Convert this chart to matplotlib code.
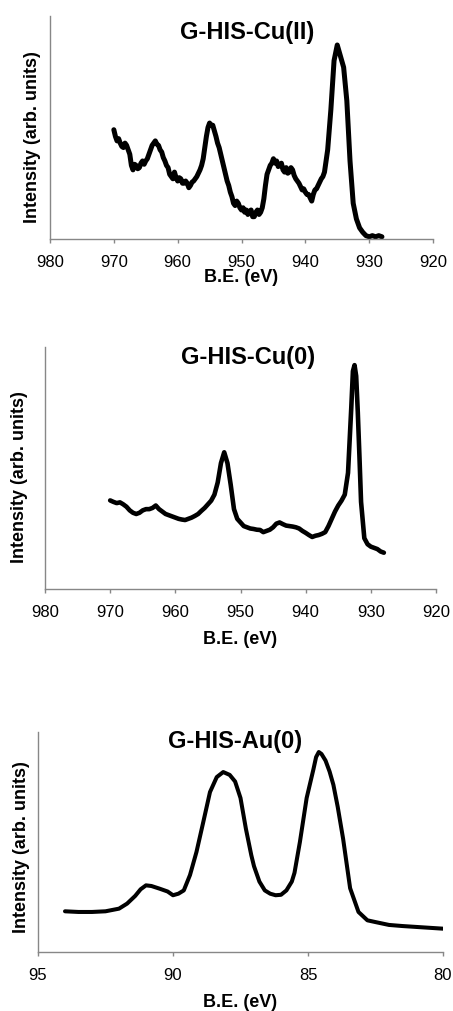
import matplotlib
matplotlib.use("Agg")
import matplotlib.pyplot as plt

plt.rcParams['font.family'] = ['Liberation Sans', 'DejaVu Sans']

# Cu 2p spectrum, G-HIS-Cu(II)
cu2_be = [970, 969.75, 969.5, 969.25, 969, 968.75, 968.5, 968.25, 968, 967.75, 967.5, 967.25,
          967, 966.75, 966.5, 966.25, 966, 965.75, 965.5, 965.25, 965, 964.75, 964.5, 964.25,
          964, 963.75, 963.5, 963.25, 963, 962.75, 962.5, 962.25, 962, 961.75, 961.5, 961.25,
          961, 960.75, 960.5, 960.25, 960, 959.75, 959.5, 959.25, 959, 958.75, 958.5, 958.25,
          958, 957.75, 957.5, 957.25, 957, 956.75, 956.5, 956.25, 956, 955.75, 955.5, 955.25,
          955, 954.75, 954.5, 954.25, 954, 953.75, 953.5, 953.25, 953, 952.75, 952.5, 952.25,
          952, 951.75, 951.5, 951.25, 951, 950.75, 950.5, 950.25, 950, 949.75, 949.5, 949.25,
          949, 948.75, 948.5, 948.25, 948, 947.75, 947.5, 947.25, 947, 946.75, 946.5, 946.25,
          946, 945.75, 945.5, 945.25, 945, 944.75, 944.5, 944.25, 944, 943.75, 943.5, 943.25,
          943, 942.75, 942.5, 942.25, 942, 941.75, 941.5, 941.25, 941, 940.75, 940.5, 940.25,
          940, 939.75, 939.5, 939.25, 939, 938.75, 938.5, 938.25, 938, 937.75, 937.5, 937.25,
          937, 936.5, 936, 935.5, 935, 934.5, 934, 933.5, 933, 932.5, 932, 931.5,
          931, 930.5, 930, 929.5, 929, 928.5, 928]
cu2_int = [49, 46, 44, 45, 43, 41.5, 41, 43, 42, 40, 38, 33,
           31, 33.5, 33, 31.5, 32, 34, 35, 33.5, 35, 36, 38, 40,
           42, 43, 44, 42.5, 42, 40, 39, 36.5, 35, 33, 32, 29,
           28, 27, 30, 27.5, 26, 27.5, 27, 25, 25, 26, 25, 23,
           24, 25.5, 26, 27, 28, 29.5, 31, 33, 36, 41, 46, 50,
           52, 51, 51, 48.5, 46, 43, 41, 38, 35, 32, 29, 26,
           24, 21, 19, 16, 15, 17, 16, 14, 13, 14, 12, 13,
           11, 12.5, 13, 10, 10, 12, 13, 11, 12, 14, 18, 24,
           29, 31, 33, 34, 36, 34, 35, 32.5, 33, 34, 31, 30,
           32, 29.5, 30, 32, 31, 28.5, 27, 26, 25, 23.5, 22, 22.5,
           21, 20, 20, 18.5, 17, 20, 22, 22.5, 24, 25.5, 27, 28,
           30, 40, 58, 80, 87, 82, 77, 62, 35, 16, 9, 5,
           3, 1.5, 1, 1.5, 1, 1.5, 1]

# Cu 2p spectrum, G-HIS-Cu(0)
cu0_be = [970, 969.5, 969, 968.5, 968, 967.5, 967, 966.5, 966, 965.5, 965, 964.5,
          964, 963.5, 963, 962.5, 962, 961.5, 961, 960.5, 960, 959.5, 959, 958.5,
          958, 957.5, 957, 956.5, 956, 955.5, 955, 954.5, 954, 953.5, 953, 952.5,
          952, 951.5, 951, 950.5, 950, 949.5, 949, 948.5, 948, 947.5, 947, 946.5,
          946, 945.5, 945, 944.5, 944, 943.5, 943, 942.5, 942, 941.5, 941, 940.5,
          940, 939.5, 939, 938.5, 938, 937.5, 937, 936.5, 936, 935.5, 935, 934.5,
          934, 933.5, 933, 932.75, 932.5, 932.25, 932, 931.75, 931.5, 931, 930.5,
          930, 929.5, 929, 928.5, 928]
cu0_int = [36.6, 36, 35.5, 35.8, 35, 34, 32.5, 31.5, 31, 31.5, 32.5, 33,
           33, 33.5, 34.5, 33, 32, 31, 30.5, 30, 29.5, 29, 28.7, 28.5,
           29, 29.5, 30.2, 31, 32.3, 33.5, 35, 36.5, 39, 44, 52, 56.5,
           52, 43, 33, 29, 27.5, 26, 25.5, 25, 24.8, 24.5, 24.4, 23.5,
           24, 24.5, 25.5, 27, 27.5, 26.8, 26.2, 26, 25.8, 25.5, 25, 24,
           23.2, 22.3, 21.5, 22, 22.3, 22.8, 23.5, 26, 29, 32, 34.5, 36.5,
           39, 48, 75, 90, 92.5, 88, 73, 55, 36, 21, 18.5,
           17.5, 17, 16.5, 15.5, 15]

# Au 4f spectrum, G-HIS-Au(0)
au_be = [94, 93.5, 93, 92.5, 92, 91.7, 91.4, 91.2, 91, 90.8, 90.5, 90.2, 90,
         89.8, 89.6, 89.37, 89.13, 88.88, 88.63, 88.38, 88.14, 87.9, 87.7, 87.5,
         87.3, 87.1, 87, 86.8, 86.6, 86.4, 86.2, 86, 85.8, 85.6, 85.5, 85.3,
         85.05, 84.8, 84.7, 84.6, 84.5, 84.35, 84.2, 84.06, 83.9, 83.7, 83.44,
         83.13, 82.8, 82.5, 82, 81.5, 81, 80.5, 80]
au_int = [18.5, 18.2, 18.2, 18.5, 19.7, 22, 25.5, 28.5, 30.3, 30, 28.8, 27.5, 25.8,
          26.5, 28, 35, 45.5, 59, 72.7, 79.5, 81.8, 80.5, 77.5, 70,
          56, 44, 39, 32, 28, 26.5, 25.8, 26, 28, 32, 36, 50,
          70, 83, 88.6, 90.9, 90, 87, 82, 76, 66, 51.5, 29,
          18.2, 14.4, 13.6, 12.3, 11.8, 11.4, 11, 10.6]

W, H = 453, 1012
fig = plt.figure(figsize=(W / 100, H / 100), dpi=100)

panels = [
    # data, (left, right, top, bottom) px, xlim, ticks, title, title pos, ylabel pos, xlabel pos, lw
    (cu2_be, cu2_int, (50, 433, 17, 240), (980, 920), [980, 970, 960, 950, 940, 930, 920],
     'G-HIS-Cu(II)', (247, 33), (33, 137), (241, 278), 3.6),
    (cu0_be, cu0_int, (45, 436, 348, 590), (980, 920), [980, 970, 960, 950, 940, 930, 920],
     'G-HIS-Cu(0)', (248, 358), (20, 477), (240, 640), 3.3),
    (au_be, au_int, (38, 443, 733, 953), (95, 80), [95, 90, 85, 80],
     'G-HIS-Au(0)', (235, 742), (22, 847), (240, 1003), 2.9),
]

grey = '#878787'
for be, inten, (l, r, t, b), xlim, ticks, title, tpos, ypos, xpos, lw in panels:
    ax = fig.add_axes([l / W, 1 - b / H, (r - l) / W, (b - t) / H])
    ax.plot(be, inten, color='black', lw=lw, solid_capstyle='round', solid_joinstyle='round')
    ax.set_xlim(*xlim)
    ax.set_ylim(0, 100)
    ax.set_xticks(ticks)
    ax.set_yticks([])
    for s in ['top', 'right']:
        ax.spines[s].set_visible(False)
    for s in ['left', 'bottom']:
        ax.spines[s].set_color(grey)
        ax.spines[s].set_linewidth(1.0)
    ax.tick_params(axis='x', colors=grey, length=3, width=1.0, direction='out',
                   labelcolor='black', labelsize=12, pad=8)
    ax.patch.set_alpha(0)

    fig.text(tpos[0] / W, 1 - tpos[1] / H, title, ha='center', va='center',
             fontsize=17, fontweight='bold')
    fig.text(ypos[0] / W, 1 - ypos[1] / H, 'Intensity (arb. units)', ha='center', va='center',
             rotation=90, fontsize=13, fontweight='bold')
    fig.text(xpos[0] / W, 1 - xpos[1] / H, 'B.E. (eV)', ha='center', va='center',
             fontsize=13, fontweight='bold')

fig.savefig('out.png', dpi=100)
